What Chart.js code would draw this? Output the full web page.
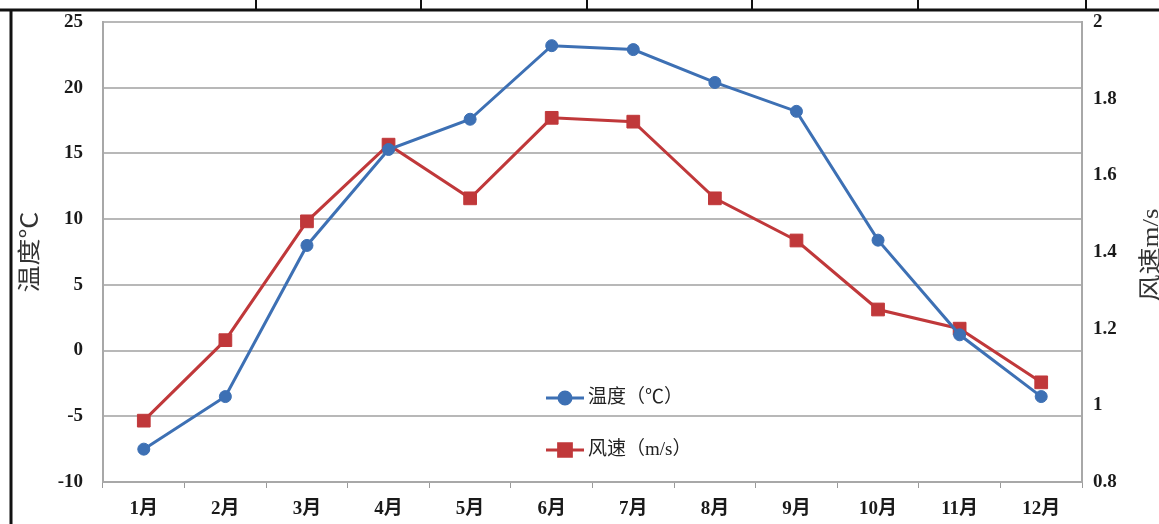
<!DOCTYPE html>
<html>
<head>
<meta charset="utf-8">
<script src="https://cdn.jsdelivr.net/npm/chart.js@4"></script>
<style>
  body { margin: 0; background: #fff; }
  #wrap { width: 1159px; height: 524px; position: relative; }
</style>
</head>
<body>
<div id="wrap"><canvas id="chart"></canvas></div>
<script>
// months along the bottom
const months = ["1月", "2月", "3月", "4月", "5月", "6月", "7月", "8月", "9月", "10月", "11月", "12月"];
// monthly mean temperature (left axis)
const temperature = [-7.5, -3.5, 8.0, 15.3, 17.6, 23.2, 22.9, 20.4, 18.2, 8.4, 1.2, -3.5];
// monthly mean wind speed (right axis)
const windSpeed = [0.96, 1.17, 1.48, 1.68, 1.54, 1.75, 1.74, 1.54, 1.43, 1.25, 1.20, 1.06];
// axis ranges
const tempRange = { min: -10, max: 25, step: 5 };
const windRange = { min: 0.8, max: 2, step: 0.2 };

const blue = "#3d70b4";
const red = "#c0383a";
const serif = "'Liberation Serif', 'Noto Sans CJK SC', serif";
const tickFont = { family: serif, size: 19, weight: "bold" };

// page frame lines around the figure
const framePlugin = {
  id: "frame",
  beforeDraw(chart) {
    const ctx = chart.ctx;
    ctx.save();
    ctx.fillStyle = "#fff";
    ctx.fillRect(0, 0, chart.width, chart.height);
    ctx.strokeStyle = "#111";
    ctx.lineWidth = 3;
    ctx.beginPath();
    ctx.moveTo(0, 10);
    ctx.lineTo(chart.width, 10);
    ctx.moveTo(11, 10);
    ctx.lineTo(11, chart.height);
    ctx.stroke();
    ctx.lineWidth = 2;
    [256, 421, 587, 752, 918, 1086].forEach((x) => {
      ctx.beginPath();
      ctx.moveTo(x, 0);
      ctx.lineTo(x, 10);
      ctx.stroke();
    });
    ctx.restore();
  }
};

// vertical axis titles, both read bottom to top
const titlePlugin = {
  id: "titles",
  afterDraw(chart) {
    const ctx = chart.ctx;
    const drawTitle = (text, x, y) => {
      ctx.save();
      ctx.translate(x, y);
      ctx.rotate(-Math.PI / 2);
      ctx.scale(1, 0.85);
      ctx.font = "27px " + serif;
      ctx.fillStyle = "#333";
      ctx.textAlign = "center";
      ctx.textBaseline = "middle";
      ctx.fillText(text, 0, 0);
      ctx.restore();
    };
    drawTitle("温度℃", 31, 252);
    drawTitle("风速m/s", 1152, 255);
  }
};

// legend sits inside the plot, stacked in two rows
const legendPlugin = {
  id: "insideLegend",
  afterDatasetsDraw(chart) {
    const ctx = chart.ctx;
    const rows = [398, 450];
    chart.data.datasets.forEach((ds, i) => {
      const y = rows[i];
      ctx.save();
      ctx.strokeStyle = ds.borderColor;
      ctx.lineWidth = 3;
      ctx.beginPath();
      ctx.moveTo(546, y);
      ctx.lineTo(584, y);
      ctx.stroke();
      ctx.fillStyle = ds.borderColor;
      Chart.helpers.drawPoint(ctx, {
        pointStyle: ds.pointStyle,
        radius: ds.pointRadius,
        borderWidth: 1
      }, 565, y);
      ctx.fillStyle = "#222";
      ctx.font = "19px " + serif;
      ctx.textBaseline = "middle";
      ctx.fillText(ds.label, 588, y);
      ctx.restore();
    });
  }
};

// fixed axis sizes so the plot area lands where it should
const fixWidth = (w) => (scale) => {
  scale.width = w;
  scale.paddingTop = 0;
  scale.paddingBottom = 0;
};

new Chart(document.getElementById("chart"), {
  type: "line",
  data: {
    labels: months,
    datasets: [
      {
        label: "温度（℃）",
        data: temperature,
        yAxisID: "y",
        borderColor: blue,
        backgroundColor: blue,
        borderWidth: 3,
        pointStyle: "circle",
        pointRadius: 6,
        pointBorderWidth: 1,
        tension: 0
      },
      {
        label: "风速（m/s）",
        data: windSpeed,
        yAxisID: "y1",
        borderColor: red,
        backgroundColor: red,
        borderWidth: 3,
        pointStyle: "rect",
        pointRadius: 9,
        pointBorderWidth: 1,
        tension: 0
      }
    ]
  },
  options: {
    responsive: true,
    maintainAspectRatio: false,
    animation: false,
    layout: { padding: { top: 22, left: 0, right: 0, bottom: 0 } },
    plugins: {
      legend: { display: false },
      tooltip: { enabled: false }
    },
    scales: {
      x: {
        offset: true,
        afterFit: (scale) => {
          scale.height = 42;
          scale.paddingLeft = 0;
          scale.paddingRight = 0;
        },
        grid: {
          drawOnChartArea: false,
          drawTicks: true,
          tickLength: 6,
          color: "#9a9a9a",
          lineWidth: 1,
          offset: true
        },
        border: { display: true, color: "#a8a8a8", width: 2 },
        ticks: {
          padding: 10,
          color: "#1a1a1a",
          maxRotation: 0,
          font: tickFont
        }
      },
      y: {
        position: "left",
        min: tempRange.min,
        max: tempRange.max,
        afterFit: fixWidth(103),
        grid: { color: "#b8b8b8", lineWidth: 2, drawTicks: false },
        border: { display: true, color: "#a8a8a8", width: 2 },
        ticks: {
          stepSize: tempRange.step,
          padding: 20,
          color: "#1a1a1a",
          font: tickFont
        }
      },
      y1: {
        position: "right",
        min: windRange.min,
        max: windRange.max,
        afterFit: fixWidth(77),
        grid: { drawOnChartArea: false, drawTicks: false },
        border: { display: true, color: "#a8a8a8", width: 2 },
        ticks: {
          stepSize: windRange.step,
          padding: 11,
          color: "#1a1a1a",
          font: tickFont,
          callback: (v) => String(Number(v.toFixed(1)))
        }
      }
    }
  },
  plugins: [framePlugin, titlePlugin, legendPlugin]
});
</script>
</body>
</html>
